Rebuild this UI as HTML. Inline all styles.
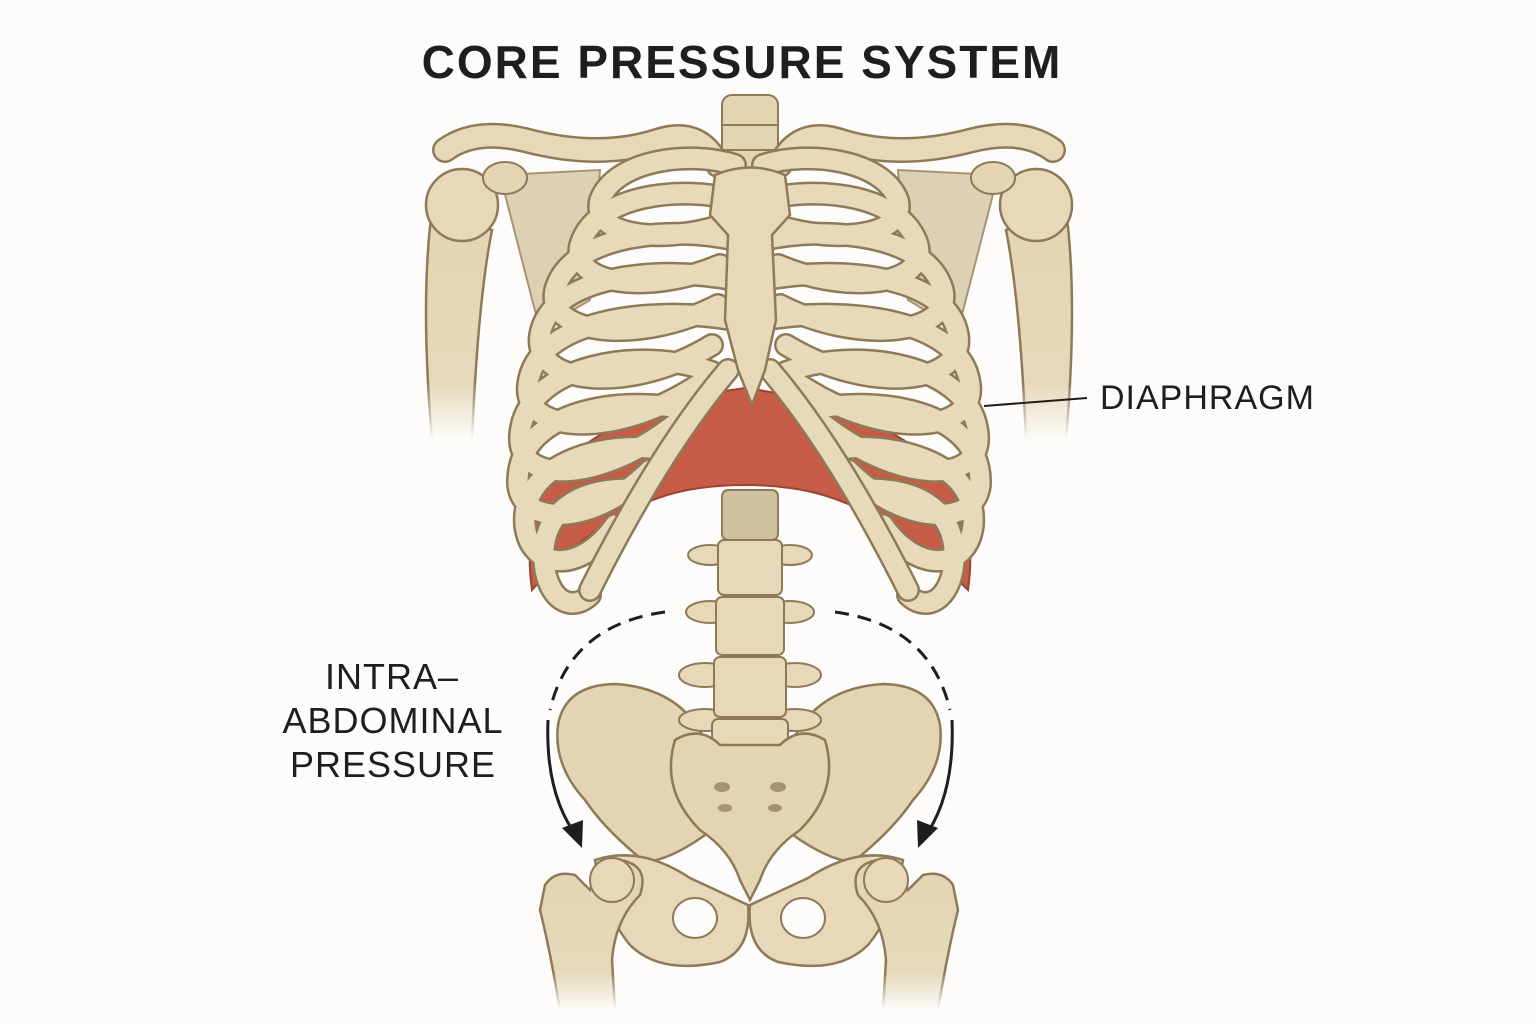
<!DOCTYPE html>
<html><head><meta charset="utf-8"><style>
html,body{margin:0;padding:0;background:#fdfcfa;}
svg{display:block}
text{font-family:"Liberation Sans",sans-serif;fill:#1e1e1e;}
</style></head><body>
<svg width="1536" height="1024" viewBox="0 0 1536 1024" xmlns="http://www.w3.org/2000/svg">
<defs>
<linearGradient id="fadeL" x1="0" y1="0" x2="0" y2="1"><stop offset="0" stop-color="#e3d4b2"/><stop offset="0.75" stop-color="#e6d9bb"/><stop offset="1" stop-color="#fdfcfa"/></linearGradient>
<linearGradient id="fadeS" x1="0" y1="0" x2="0" y2="1"><stop offset="0" stop-color="#8f7a58"/><stop offset="0.75" stop-color="#8f7a58"/><stop offset="1" stop-color="#fdfcfa"/></linearGradient>
<g id="half">
  <!-- scapula -->
  <path d="M500 175 L600 170 L590 300 L540 330 Z" fill="#ddd0b4" stroke="#a89474" stroke-width="2"/>
  <!-- humerus -->
  <path d="M432 210 Q420 300 432 440 L472 440 Q478 300 492 230 Z" fill="url(#fadeL)" stroke="url(#fadeS)" stroke-width="2.5"/>
  <circle cx="462" cy="205" r="36" fill="#e6d8b8" stroke="#8f7a58" stroke-width="2.5"/>
  <ellipse cx="505" cy="178" rx="22" ry="16" fill="#e3d4b2" stroke="#8f7a58" stroke-width="2"/>
  <!-- clavicle -->
  <path d="M445 150 Q475 128 525 140 Q600 160 660 140 Q700 128 718 165" fill="none" stroke="#8f7a58" stroke-width="26" stroke-linecap="round"/>
  <path d="M445 150 Q475 128 525 140 Q600 160 660 140 Q700 128 718 165" fill="none" stroke="#e6d8b8" stroke-width="21" stroke-linecap="round"/>
  <!-- ribs -->
  <g fill="none" stroke-linecap="round">
    <g stroke="#8f7a58" stroke-width="24">
      <path d="M735 165 C690 150 615 160 600 200 C590 235 660 245 722 225"/>
      <path d="M735 200 C680 185 595 195 580 245 C570 285 650 295 720 265"/>
      <path d="M735 240 C670 225 570 235 555 290 C545 335 640 345 718 305"/>
      <path d="M735 280 C660 265 550 275 540 335 C532 385 630 395 712 345"/>
      <path d="M735 320 C650 305 535 320 528 385 C522 435 620 440 705 380"/>
      <path d="M712 372 C640 345 525 365 520 435 C516 485 600 485 680 420"/>
      <path d="M690 410 C620 395 520 410 518 480 C516 525 590 530 650 470"/>
      <path d="M665 450 C610 440 520 460 525 525 C530 570 580 575 615 525"/>
      <path d="M640 490 C590 485 535 505 545 570 C552 605 575 610 590 595"/>
    </g>
    <g stroke="#e7dabb" stroke-width="19">
      <path d="M735 165 C690 150 615 160 600 200 C590 235 660 245 722 225"/>
      <path d="M735 200 C680 185 595 195 580 245 C570 285 650 295 720 265"/>
      <path d="M735 240 C670 225 570 235 555 290 C545 335 640 345 718 305"/>
      <path d="M735 280 C660 265 550 275 540 335 C532 385 630 395 712 345"/>
      <path d="M735 320 C650 305 535 320 528 385 C522 435 620 440 705 380"/>
      <path d="M712 372 C640 345 525 365 520 435 C516 485 600 485 680 420"/>
      <path d="M690 410 C620 395 520 410 518 480 C516 525 590 530 650 470"/>
      <path d="M665 450 C610 440 520 460 525 525 C530 570 580 575 615 525"/>
      <path d="M640 490 C590 485 535 505 545 570 C552 605 575 610 590 595"/>
    </g>
    <!-- costal margin -->
    <path d="M728 370 Q660 450 590 590" stroke="#8f7a58" stroke-width="24"/>
    <path d="M728 370 Q660 450 590 590" stroke="#e7dabb" stroke-width="19"/>
  </g>
  <!-- ilium -->
  <path d="M558 725 Q565 685 615 684 Q680 688 705 740 L705 835 Q670 860 645 862 Q605 830 585 800 Q553 765 558 725 Z" fill="#e3d4b2" stroke="#8f7a58" stroke-width="2.5"/>
  <!-- pubis & ischium -->
  <path d="M595 860 Q640 845 690 878 L748 905 Q752 950 720 962 Q660 975 630 945 Q605 915 595 860 Z" fill="#e6d8b8" stroke="#8f7a58" stroke-width="2.5"/>
  <ellipse cx="695" cy="918" rx="22" ry="20" fill="#fdfcfa" stroke="#8f7a58" stroke-width="2"/>
  <!-- femur -->
  <path d="M545 885 Q555 870 575 875 L590 890 Q600 860 620 860 Q650 865 640 895 Q615 920 612 960 L615 1010 L560 1010 Q550 950 540 910 Z" fill="url(#fadeL)" stroke="url(#fadeS)" stroke-width="2.5"/>
  <circle cx="612" cy="880" r="22" fill="#e6d8b8" stroke="#8f7a58" stroke-width="2"/>
</g>
</defs>

<text x="742" y="78" font-size="46" font-weight="bold" text-anchor="middle" letter-spacing="2">CORE PRESSURE SYSTEM</text>

<!-- cervical/thoracic spine -->
<rect x="722" y="95" width="56" height="85" rx="10" fill="#e3d4b2" stroke="#8f7a58" stroke-width="2"/>
<line x1="722" y1="125" x2="778" y2="125" stroke="#8f7a58" stroke-width="2"/>
<line x1="722" y1="150" x2="778" y2="150" stroke="#8f7a58" stroke-width="2"/>

<!-- diaphragm -->
<path d="M555 470 Q620 405 745 388 Q870 405 945 470 Q978 520 968 590 Q880 500 790 488 Q745 482 700 488 Q610 500 532 590 Q522 520 555 470 Z" fill="#c65b46" stroke="#9a4434" stroke-width="2"/>

<use href="#half"/>
<use href="#half" transform="matrix(-1 0 0 1 1498 0)"/>

<!-- sternum -->
<path d="M715 175 Q750 160 785 175 L790 215 L772 235 L776 320 L765 370 L752 405 L738 370 L725 320 L728 235 L710 215 Z" fill="#e6d8b8" stroke="#8f7a58" stroke-width="2.5"/>

<!-- lumbar spine -->
<g fill="#e6d8b8" stroke="#8f7a58" stroke-width="2">
  <ellipse cx="710" cy="555" rx="22" ry="10"/><ellipse cx="790" cy="555" rx="22" ry="10"/>
  <ellipse cx="710" cy="612" rx="24" ry="11"/><ellipse cx="790" cy="612" rx="24" ry="11"/>
  <ellipse cx="705" cy="675" rx="26" ry="12"/><ellipse cx="795" cy="675" rx="26" ry="12"/>
  <ellipse cx="705" cy="720" rx="26" ry="11"/><ellipse cx="795" cy="720" rx="26" ry="11"/>
  <rect x="722" y="490" width="56" height="50" rx="6" fill="#cfc0a0"/>
  <rect x="718" y="540" width="64" height="55" rx="6"/>
  <rect x="716" y="597" width="68" height="58" rx="6"/>
  <rect x="714" y="657" width="72" height="60" rx="6"/>
  <rect x="712" y="719" width="76" height="50" rx="6"/>
</g>
<!-- sacrum -->
<path d="M675 740 Q700 725 720 745 L780 745 Q800 725 825 740 Q840 790 800 830 Q770 850 760 880 L750 900 L740 880 Q730 850 700 830 Q660 790 675 740 Z" fill="#e3d4b2" stroke="#8f7a58" stroke-width="2.5"/>
<g fill="#8f7a58" opacity="0.7"><ellipse cx="722" cy="787" rx="8" ry="5"/><ellipse cx="778" cy="787" rx="8" ry="5"/><ellipse cx="725" cy="808" rx="7" ry="4"/><ellipse cx="775" cy="808" rx="7" ry="4"/></g>

<!-- dashed arcs -->
<g fill="none" stroke="#1e1e1e" stroke-width="3">
  <path d="M665 612 Q570 625 550 710" stroke-dasharray="14 9"/>
  <path d="M548 720 Q545 795 578 838"/>
  <path d="M835 612 Q930 625 950 710" stroke-dasharray="14 9"/>
  <path d="M952 720 Q955 795 924 838"/>
</g>
<path d="M562 828 L582 848 L583 820 Z" fill="#1e1e1e"/>
<path d="M938 828 L918 848 L917 820 Z" fill="#1e1e1e"/>

<!-- labels -->
<line x1="984" y1="406" x2="1087" y2="398" stroke="#1e1e1e" stroke-width="2"/>
<text x="1100" y="409" font-size="34" letter-spacing="1">DIAPHRAGM</text>
<text x="392" y="689" font-size="36" text-anchor="middle" letter-spacing="1">INTRA–</text>
<text x="393" y="733" font-size="36" text-anchor="middle" letter-spacing="1">ABDOMINAL</text>
<text x="393" y="777" font-size="36" text-anchor="middle" letter-spacing="1">PRESSURE</text>
</svg>
</body></html>
